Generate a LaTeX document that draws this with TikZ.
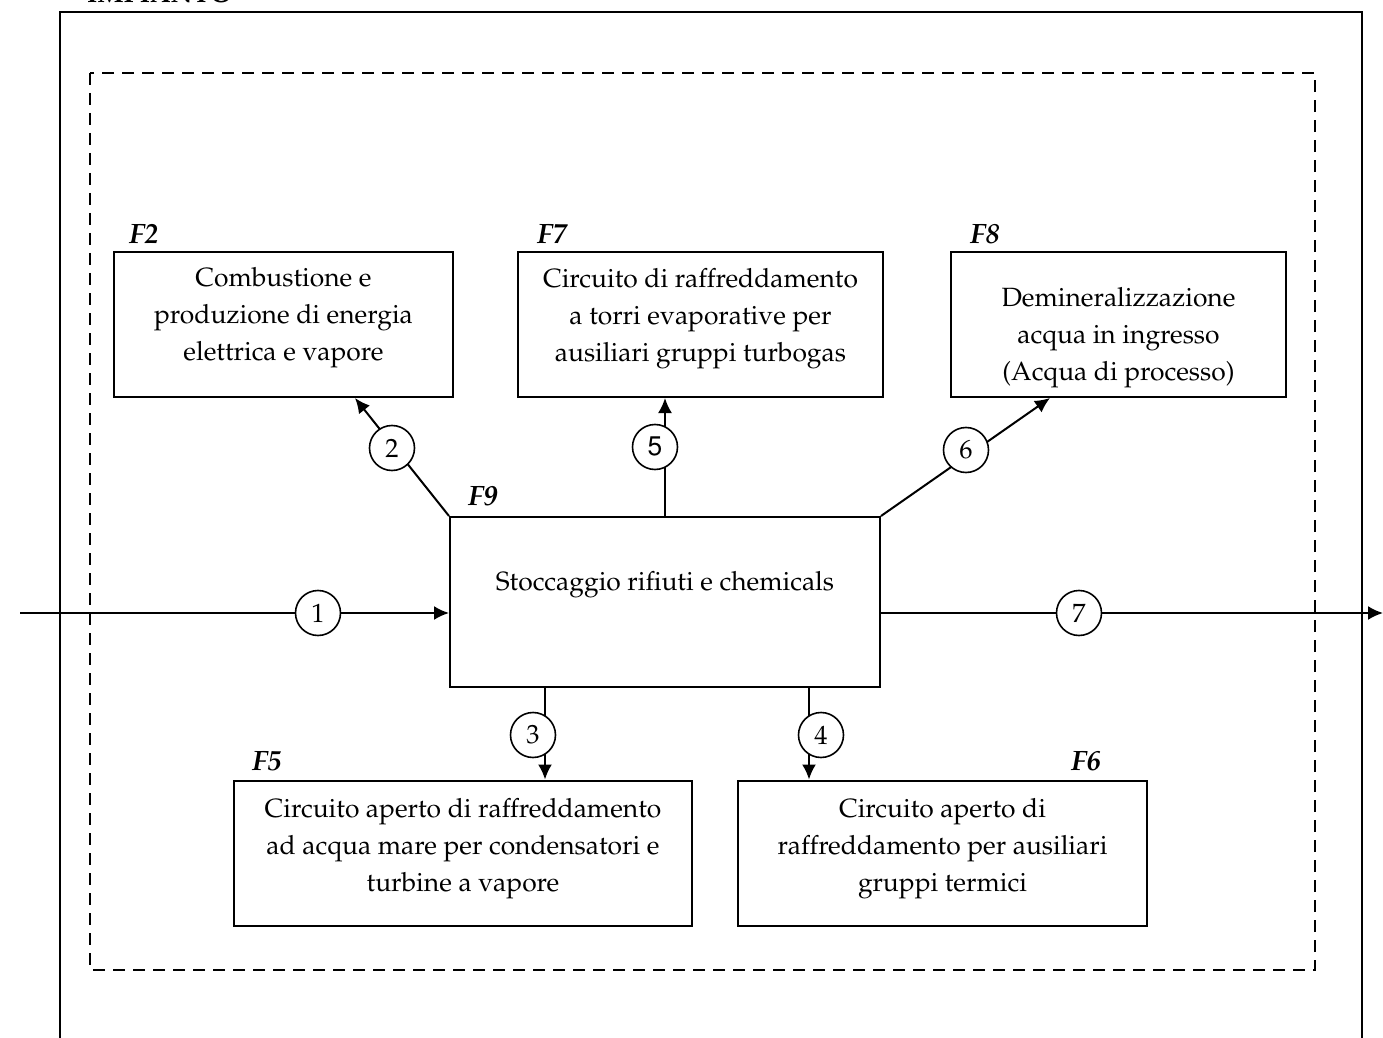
\documentclass[tikz,border=0pt]{standalone}
\usepackage[T1]{fontenc}
\usepackage{mathpazo}
\usetikzlibrary{arrows.meta,calc}

\tikzset{
  funzione/.style={draw, line width=1pt, inner sep=0pt, minimum height=72.5pt},
  testo/.style={align=center, inner sep=0pt, font=\fontsize{13.2}{18.5}\selectfont},
  sigla/.style={font=\fontsize{14}{16}\selectfont\bfseries\itshape, anchor=base west},
  flusso/.style={line width=1pt, -{Latex[length=7.5pt,width=7pt]}},
  num/.style={circle, draw, line width=0.8pt, fill=white, minimum size=22.5pt, inner sep=0pt,
    font=\fontsize{13.2}{15}\selectfont}
}

\begin{document}
\begin{tikzpicture}[x=0.5pt, y=-0.5pt]
            \useasboundingbox (0,0) rectangle (1383,1038);
            %\draw[lightgray] (0,0) grid[step=100] (1383,1038);
            % impianto e perimetro
            \node[anchor=base west, font=\fontsize{13.2}{15}\selectfont\bfseries] (impianto) at (80,3) {IMPIANTO};
            \draw[line width=1pt] (60,1045) -- (60,12) -- (1362,12) -- (1362,1045);
            \draw[line width=1pt, dash pattern=on 6pt off 4pt] (90,73) rectangle (1315,970);
            % funzioni
            \node[funzione, minimum width=169.5pt] (F2) at (283.5,324.5) {};
            \node[testo] (F2t) at ($(F2.center)+(0,-7)$) {Combustione e\\produzione di energia\\elettrica e vapore};
            \node[funzione, minimum width=182.5pt] (F7) at (700.5,324.5) {};
            \node[testo] (F7t) at ($(F7.center)+(0,-6)$) {Circuito di raffreddamento\\a torri evaporative per\\ausiliari gruppi turbogas};
            \node[funzione, minimum width=167.5pt] (F8) at (1118.5,324.5) {};
            \node[testo] (F8t) at ($(F8.center)+(0,13)$) {Demineralizzazione\\acqua in ingresso\\(Acqua di processo)};
            \node[funzione, minimum width=215pt, minimum height=85pt] (F9) at (665,602) {};
            \node[testo] (F9t) at ($(F9.center)+(0,-17)$) {Stoccaggio rifiuti e chemicals};
            \node[funzione, minimum width=229pt] (F5) at (463,853) {};
            \node[testo] (F5t) at ($(F5.center)+(0,-4)$) {Circuito aperto di raffreddamento\\ad acqua mare per condensatori e\\turbine a vapore};
            \node[funzione, minimum width=204.5pt] (F6) at (942.5,853) {};
            \node[testo] (F6t) at ($(F6.center)+(0,-4)$) {Circuito aperto di\\raffreddamento per ausiliari\\gruppi termici};
            % sigle
            \node[sigla] at (122,243) {F2};
            \node[sigla] at (530,243) {F7};
            \node[sigla] at (963,243) {F8};
            \node[sigla] at (461,505) {F9};
            \node[sigla] at (245,770) {F5};
            \node[sigla] at (1064,770) {F6};
            % flussi
            \coordinate (ingresso) at (20,613);
            \coordinate (uscita) at (1383,613);
            \coordinate (a2) at ($(F2.south)+(71.5,0)$);
            \coordinate (a6) at ($(F8.south west)+(100,0)$);
            \coordinate (p3) at ($(F9.south west)+(96,0)$);
            \coordinate (p4) at ($(F9.south west)+(360,0)$);
            \draw[flusso] (ingresso) -- (F9.west |- ingresso);
            \draw[flusso] (F9.east |- uscita) -- (uscita);
            \draw[flusso] (F9.north west) -- (a2);
            \draw[flusso] (F9.north) -- (F9.north |- F7.south);
            \draw[flusso] (F9.north east) -- (a6);
            \draw[flusso] (p3) -- (p3 |- F5.north);
            \draw[flusso] (p4) -- (p4 |- F6.north);
            % numeri
            \node[num] (n1) at (318,613) {1};
            \node[num] (n2) at (392,448) {2};
            \node[num] (n3) at (533,735) {3};
            \node[num] (n4) at (821,735) {4};
            \node[num, font=\fontsize{13.2}{15}\fontfamily{phv}\selectfont] (n5) at (655,447) {5};
            \node[num] (n6) at (966,450) {6};
            \node[num] (n7) at (1079,613) {7};
        \end{tikzpicture}
\end{document}
